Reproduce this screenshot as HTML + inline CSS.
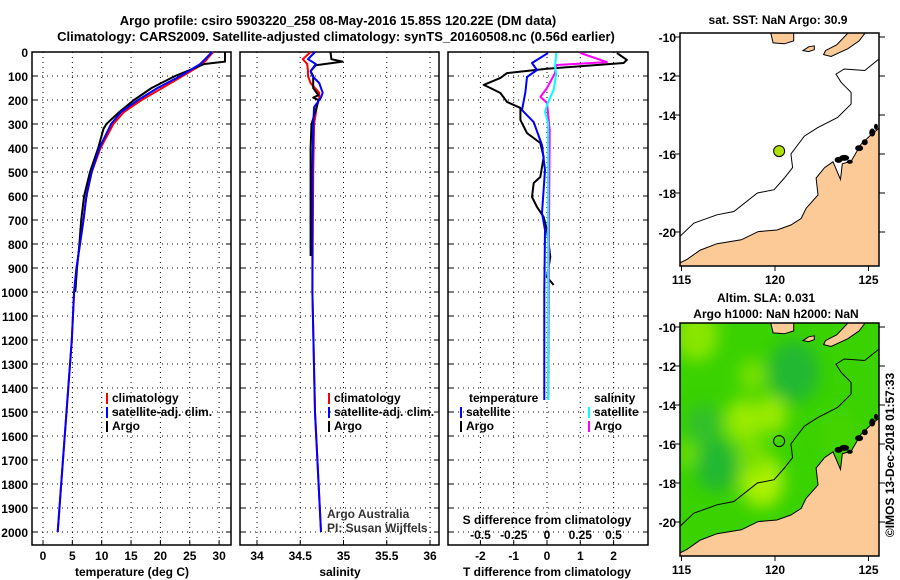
<!DOCTYPE html>
<html><head><meta charset="utf-8">
<style>
html,body{margin:0;padding:0;background:#fff;}
svg{display:block;font-family:"Liberation Sans",sans-serif;}
.t{font-weight:bold;font-size:13px;}
.k{font-weight:bold;font-size:12px;}
</style></head>
<body>
<svg id="fig" width="900" height="580" viewBox="0 0 900 580" xmlns="http://www.w3.org/2000/svg">
<defs>
<filter id="blur" x="-20%" y="-20%" width="140%" height="140%"><feGaussianBlur stdDeviation="8"/></filter>
</defs>
<text class="t" x="338" y="25" text-anchor="middle">Argo profile: csiro 5903220_258 08-May-2016 15.85S 120.22E (DM data)</text>
<text class="t" x="336" y="41" text-anchor="middle">Climatology: CARS2009. Satellite-adjusted climatology: synTS_20160508.nc (0.56d earlier)</text>
<g id="g"></g>
</svg>
<script>
// depth levels (m)
const depthT = [0,50,100,150,200,250,300,400,500,600,700,800,900,1000,1200,1500,1800,2000];
const tempClim = [29.0,27.2,23.8,20.3,16.8,13.8,12.0,9.8,8.3,7.4,6.9,6.3,5.7,5.3,4.9,4.0,3.1,2.5];
const tempSat  = [28.8,26.8,23.4,19.5,16.2,13.3,11.6,9.6,8.3,7.4,6.9,6.3,5.7,5.3,4.9,4.0,3.1,2.5];
const depthTA = [0,20,40,50,100,150,200,250,300,320,400,500,600,700,800,900,1000];
const tempArgo = [31.0,31.0,31.0,27.5,22.5,18.5,15.5,13.0,10.8,10.3,9.4,8.0,7.0,6.5,6.2,5.8,5.5];
const depthS = [0,30,50,80,100,130,170,190,230,300,500,1000,1500,2000];
const salClim = [34.62,34.53,34.58,34.59,34.59,34.62,34.72,34.72,34.69,34.66,34.65,34.64,34.67,34.74];
const salSat  = [34.67,34.59,34.68,34.62,34.64,34.72,34.76,34.74,34.66,34.65,34.64,34.64,34.67,34.74];
const depthSA = [0,30,40,55,80,100,150,180,190,200,230,300,400,700,850];
const salArgo = [34.85,34.86,34.99,34.68,34.62,34.65,34.65,34.71,34.65,34.71,34.69,34.63,34.62,34.62,34.62];
const depthDT = [4,33,46,70,88,108,137,150,171,208,233,283,338,379,438,521,546,604,646,688,742,854,938,971];
const dTArgo = [2.1,2.4,2.3,0,-1.2,-1.4,-1.9,-1.7,-1.4,-1.2,-0.8,-0.8,-0.6,-0.2,-0.1,-0.2,-0.4,-0.45,-0.3,-0.1,0,0.1,0,0.2];
const depthDTS = [4,46,75,104,167,242,292,388,492,671,742,1000,1450];
const dTSat = [0.03,-0.45,-0.3,-0.6,-0.65,-0.75,-0.4,-0.15,-0.06,-0.15,-0.06,-0.08,-0.08];
const depthDS = [4,42,54,88,150,187,212,325,750,1450];
const dSArgo = [0.25,0.45,0.07,0.06,0,-0.05,0,0.02,0.015,0.01];
const depthDSS = [4,62,88,158,221,250,296,750,1450];
const dSSat = [0.07,0.06,0.07,0.05,0,-0.015,0.008,0.008,0.008];
const depthTicks = [0,100,200,300,400,500,600,700,800,900,1000,1100,1200,1300,1400,1500,1600,1700,1800,1900,2000];
const tTicks = [0,5,10,15,20,25,30];
const sTicks = [34,34.5,35,35.5,36];
const sTickLabels = ["34","34.5","35","35.5","36"];
const dTTicks = [-2,-1,0,1,2];
const dSTicks = [-0.5,-0.25,0,0.25,0.5];
const dSTickLabels = ["-0.5","-0.25","0","0.25","0.5"];
const latTicks = [-10,-12,-14,-16,-18,-20];
const lonTicks = [115,120,125];

const NS="http://www.w3.org/2000/svg";
const G=document.getElementById('g');
function mk(tag,attrs,parent){const e=document.createElementNS(NS,tag);for(const k in attrs)e.setAttribute(k,attrs[k]);(parent||G).appendChild(e);return e;}
function txt(x,y,s,cls,anchor,parent){const e=mk('text',{x:x,y:y,'class':cls||'k','text-anchor':anchor||'middle'},parent);e.textContent=s;return e;}

const Y=d=>52+d*0.24;
const PB=545;
const panels=[
 {x0:32,x1:231,X:v=>43+v*5.87,ticks:tTicks,labels:tTicks.map(String),name:'temperature-panel'},
 {x0:240,x1:439,X:v=>257+(v-34)*86.5,ticks:sTicks,labels:sTickLabels,name:'salinity-panel'},
 {x0:448,x1:648,X:v=>547+v*33.3,ticks:dTTicks,labels:dTTicks.map(String),name:'difference-panel'}
];
const XS=v=>547+v*133;

panels.forEach((p,i)=>{
 const g=mk('g',{});
 
 
 depthTicks.forEach(d=>{ if(d>0) mk('line',{x1:p.x0,x2:p.x1,y1:Y(d),y2:Y(d),stroke:'#000','stroke-width':1,'stroke-dasharray':'1,4'},g);
   mk('line',{x1:p.x0,x2:p.x0+5,y1:Y(d),y2:Y(d),stroke:'#000'},g);
   mk('line',{x1:p.x1-5,x2:p.x1,y1:Y(d),y2:Y(d),stroke:'#000'},g);});
 p.ticks.forEach((v,j)=>{const x=p.X(v);
   mk('line',{x1:x,x2:x,y1:52,y2:PB,stroke:'#000','stroke-dasharray':'1,4'},g);
   mk('line',{x1:x,x2:x,y1:PB-5,y2:PB,stroke:'#000'},g);
   const t=txt(x,560,p.labels[j],'k','middle',g);
   
   });
 mk('rect',{x:p.x0,y:52,width:p.x1-p.x0,height:PB-52,fill:'none',stroke:'#000','stroke-width':1.5},g);
});
depthTicks.forEach(d=>{const t=txt(28,Y(d)+5,String(d),'k','end');
 
 });

function line(xs,ds,X,color,w,name,dash){
 const pts=xs.map((v,i)=>X(v).toFixed(1)+','+Y(ds[i]).toFixed(1)).join(' ');
 const e=mk('polyline',{points:pts,fill:'none',stroke:color,'stroke-width':w||2,'stroke-linejoin':'round'});
 if(dash)e.setAttribute('stroke-dasharray',dash);
 
 
}
const P=panels;
line(tempClim,depthT,P[0].X,'#f00',2,'temp-climatology-line');
line(tempArgo,depthTA,P[0].X,'#000',2,'temp-argo-line');
line(tempSat,depthT,P[0].X,'#00f',2,'temp-satellite-line');
line(salClim,depthS,P[1].X,'#f00',2,'sal-climatology-line');
line(salArgo,depthSA,P[1].X,'#000',2,'sal-argo-line');
line(salSat,depthS,P[1].X,'#00f',2,'sal-satellite-line');
line(dTArgo,depthDT,P[2].X,'#000',2,'tdiff-argo-line');
line(dTSat,depthDTS,P[2].X,'#00f',2,'tdiff-satellite-line');
line(dSArgo,depthDS,XS,'#f0f',2,'sdiff-argo-line');
line(dSSat,depthDSS,XS,'#0ff',2,'sdiff-satellite-line');

// legends
function leg(x,y,color,label){mk('rect',{x:x,y:y-9,width:2,height:11,fill:color});
 const t=txt(x+6,y,label,'k','start');
 
 }
[[106,'climatology','#f00'],[106,'satellite-adj. clim.','#00f'],[106,'Argo','#000']].forEach((a,i)=>leg(a[0],402+i*14,a[2],a[1]));
[[328,'climatology','#f00'],[328,'satellite-adj. clim.','#00f'],[328,'Argo','#000']].forEach((a,i)=>leg(a[0],402+i*14,a[2],a[1]));
txt(469,402,'temperature','k','start');
leg(460,416,'#00f','satellite');leg(460,430,'#000','Argo');
txt(594,402,'salinity','k','start');
leg(588,416,'#0ff','satellite');leg(588,430,'#f0f','Argo');
txt(327,518,'Argo Australia','', 'start').setAttribute('style','font-size:12px;fill:#333');
txt(327,532,'PI: Susan Wijffels','', 'start').setAttribute('style','font-size:12px;fill:#333');
txt(547,524,'S difference from climatology');
dSTicks.forEach((v,j)=>{const t=txt(XS(v),539,dSTickLabels[j]);
 
 });
txt(132,576,'temperature (deg C)');
txt(340,576,'salinity');
txt(547,576,'T difference from climatology');

// maps
const coast=[[114.9,-21.9],[114.9,-21.6],[115.3,-21.4],[116.0,-20.93],[116.9,-20.6],[118.2,-20.4],[119.1,-19.98],[120.1,-19.9],[120.85,-19.64],[121.4,-19.3],[121.65,-18.8],[122.3,-18.1],[122.2,-17.23],[122.65,-16.7],[123.1,-16.4],[123.5,-17.3],[123.6,-16.5],[124.07,-16.37],[124.6,-15.5],[125.15,-15.0],[125.6,-14.65],[125.6,-21.9]];
const shelf=[[114.9,-20.24],[115.66,-19.55],[116.9,-19.12],[117.8,-18.95],[119.06,-18.0],[119.95,-17.83],[120.5,-17.23],[120.94,-16.7],[120.85,-16.0],[121.57,-15.08],[122.28,-14.65],[123.35,-14.13],[124.07,-13.44],[124.07,-12.84],[123.53,-12.32],[123.26,-11.9],[123.7,-11.64],[124.8,-11.72],[125.6,-11.1]];
const island=[[119.75,-9.7],[119.9,-10.3],[120.5,-10.35],[121.0,-10.2],[121.0,-9.7]];
const island2=[[122.6,-10.9],[123.0,-11.0],[123.9,-10.6],[124.5,-10.2],[124.9,-9.7],[124.0,-9.7],[123.3,-10.4],[122.7,-10.7]];
const island3=[[121.5,-10.7],[121.8,-10.5],[122.1,-10.45],[122.1,-10.65],[121.8,-10.75]];
const reefs=[[123.4,-16.3,4,3],[123.7,-16.2,5,3],[124.0,-16.4,3,2],[124.5,-15.7,4,3],[124.8,-15.4,3,3],[125.2,-14.9,3,4],[125.4,-14.6,2,3]];
// SLA colour blobs: lon, lat, radius(px), colour
const blobs=[[115.8,-10.4,22,'#88e600'],[116.9,-17.1,22,'#22b833'],[116.2,-15.0,18,'#33c02a'],[121.0,-12.3,26,'#22b833'],[118.8,-12.5,14,'#77e000'],[118.3,-14.8,18,'#99ea00'],[119.8,-14.5,16,'#99ea00'],[119.3,-17.9,22,'#aaf000'],[118.8,-16.5,16,'#77e000'],[115.3,-16.5,12,'#66dd00'],[123.5,-15.5,20,'#44d400']];
const L=v=>681.5+(v-115)*18.7;
function drawMap(top,name,green){
 const T=v=>top+(-10-v)*19.5;
 const g=mk('g',{});
 
 
 const id='c'+top;
 const bx=680,by=top-4,bw=199,bh=233;
 const cp=mk('clipPath',{id:id},g);mk('rect',{x:bx,y:by,width:bw,height:bh},cp);
 const inner=mk('g',{'clip-path':'url(#'+id+')'},g);
 if(green){
  mk('rect',{x:bx,y:by,width:bw,height:bh,fill:'#3ad200'},inner);
  const bg=mk('g',{filter:'url(#blur)'},inner);
  blobs.forEach(b=>{mk('ellipse',{cx:L(b[0]),cy:T(b[1]),rx:b[2],ry:b[2]*1.2,fill:b[3]},bg);});
 } else mk('rect',{x:bx,y:by,width:bw,height:bh,fill:'#fff'},inner);
 const pp=a=>a.map(p=>L(p[0]).toFixed(1)+','+T(p[1]).toFixed(1)).join(' ');
 mk('polygon',{points:pp(coast),fill:'#fcca96',stroke:'#000','stroke-width':1},inner);
 [island,island2,island3].forEach(is=>mk('polygon',{points:pp(is),fill:'#fcca96',stroke:'#000'},inner));
 reefs.forEach(r=>mk('ellipse',{cx:L(r[0]),cy:T(r[1]),rx:r[2],ry:r[3],fill:'#000'},inner));
 mk('polyline',{points:pp(shelf),fill:'none',stroke:'#000','stroke-width':1},inner);
 mk('rect',{x:bx,y:by,width:bw,height:bh,fill:'none',stroke:'#000','stroke-width':1.5},g);
 latTicks.forEach(v=>{mk('line',{x1:bx+bw,x2:bx+bw+6,y1:T(v),y2:T(v),stroke:'#000'},g);
  mk('line',{x1:bx-5,x2:bx,y1:T(v),y2:T(v),stroke:'#000'},g);
  const t=txt(676,T(v)+5,String(v),'k','end',g);
  
  });
 lonTicks.forEach(v=>{mk('line',{x1:L(v),x2:L(v),y1:by+bh,y2:by+bh+5,stroke:'#000'},g);
  const t=txt(L(v),by+bh+18,String(v),'k','middle',g);
  
  });
 const c=mk('circle',{cx:L(120.22),cy:T(-15.85),r:5.5,fill:green?'none':'#b0e000',stroke:'#000'},g);
 
 
}
drawMap(37,'sst-map',false);
drawMap(327,'sla-map',true);
txt(778,24,'sat. SST: NaN Argo: 30.9');
txt(766,302,'Altim. SLA: 0.031');
txt(776,318,'Argo h1000: NaN h2000: NaN');
const cr=txt(0,0,'©IMOS 13-Dec-2018 01:57:33','','middle');
cr.setAttribute('style','font-size:12px');
cr.setAttribute('transform','translate(894,455) rotate(-90)');


</script>
</body></html>
